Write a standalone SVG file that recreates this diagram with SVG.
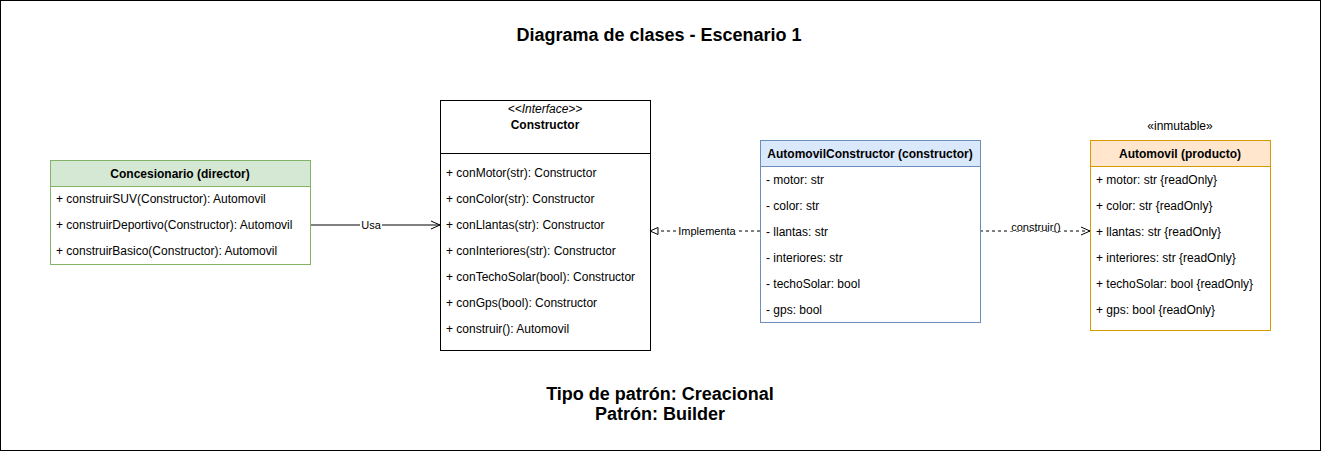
<svg xmlns="http://www.w3.org/2000/svg" width="1321" height="451" viewBox="0 0 1321 451">
<defs>
<style>
text{font-family:"Liberation Sans",Arial,sans-serif;fill:#000}
.row{font-size:12px}
.hdr{font-size:12px;font-weight:bold;text-anchor:middle}
.lbl{font-size:11px;text-anchor:middle}
.big{font-size:18px;font-weight:bold;text-anchor:middle}
.line{fill:none;stroke:#000;stroke-width:1}
</style>
<marker id="open" viewBox="0 0 10 10" refX="10" refY="5" markerWidth="10" markerHeight="10" markerUnits="userSpaceOnUse" orient="auto">
<path d="M1,1 L10,5 L1,9" fill="none" stroke="#000" stroke-width="1"/>
</marker>
<marker id="tri" viewBox="0 0 10 10" refX="10" refY="5" markerWidth="10" markerHeight="10" markerUnits="userSpaceOnUse" orient="auto">
<path d="M2,1.5 L10,5 L2,8.5 Z" fill="#fff" stroke="#000" stroke-width="1"/>
</marker>
</defs>
<rect x="0.5" y="0.5" width="1320" height="450" fill="#fff" stroke="#000"/>
<text class="big" x="659" y="41">Diagrama de clases - Escenario 1</text>

<g id="connectors">
<line class="line" x1="310" y1="225" x2="440" y2="225" marker-end="url(#open)"/>
<rect x="360" y="219" width="22" height="12" fill="#fff"/>
<text class="lbl" x="371" y="229">Usa</text>
<line class="line" x1="760" y1="231" x2="650" y2="231" stroke-dasharray="3,3" marker-end="url(#tri)"/>
<rect x="677" y="225" width="61" height="12" fill="#fff"/>
<text class="lbl" x="707" y="235">Implementa</text>
<line class="line" x1="980" y1="231" x2="1090" y2="231" stroke-dasharray="3,3" marker-end="url(#open)"/>
<rect x="1009" y="221" width="54" height="10" fill="#fff"/>
<text class="lbl" x="1036" y="231">construir()</text>
</g>

<g id="concesionario">
<rect x="50.5" y="160.5" width="260" height="104" fill="#fff" stroke="#82b366"/>
<rect x="50.5" y="160.5" width="260" height="26" fill="#d5e8d4" stroke="#82b366"/>
<text class="hdr" x="180" y="177.5">Concesionario (director)</text>
<text class="row" x="56" y="203">+ construirSUV(Constructor): Automovil</text>
<text class="row" x="56" y="229">+ construirDeportivo(Constructor): Automovil</text>
<text class="row" x="56" y="255">+ construirBasico(Constructor): Automovil</text>
</g>

<g id="constructor">
<rect x="440.5" y="100.5" width="210" height="250" fill="#fff" stroke="#000"/>
<line class="line" x1="440.5" y1="153.5" x2="650.5" y2="153.5"/>
<text x="545" y="113" font-size="12" font-style="italic" text-anchor="middle">&lt;&lt;Interface&gt;&gt;</text>
<text class="hdr" x="545" y="129">Constructor</text>
<text class="row" x="446" y="177">+ conMotor(str): Constructor</text>
<text class="row" x="446" y="203">+ conColor(str): Constructor</text>
<text class="row" x="446" y="229">+ conLlantas(str): Constructor</text>
<text class="row" x="446" y="255">+ conInteriores(str): Constructor</text>
<text class="row" x="446" y="281">+ conTechoSolar(bool): Constructor</text>
<text class="row" x="446" y="307">+ conGps(bool): Constructor</text>
<text class="row" x="446" y="333">+ construir(): Automovil</text>
</g>

<g id="automovilconstructor">
<rect x="760.5" y="140.5" width="220" height="182" fill="#fff" stroke="#6c8ebf"/>
<rect x="760.5" y="140.5" width="220" height="26" fill="#dae8fc" stroke="#6c8ebf"/>
<text class="hdr" x="870" y="157.5">AutomovilConstructor (constructor)</text>
<text class="row" x="766" y="184">- motor: str</text>
<text class="row" x="766" y="210">- color: str</text>
<text class="row" x="766" y="236">- llantas: str</text>
<text class="row" x="766" y="262">- interiores: str</text>
<text class="row" x="766" y="288">- techoSolar: bool</text>
<text class="row" x="766" y="314">- gps: bool</text>
</g>

<g id="automovil">
<text x="1180" y="129.5" font-size="12" text-anchor="middle">«inmutable»</text>
<rect x="1090.5" y="140.5" width="180" height="190" fill="#fff" stroke="#d79b00"/>
<rect x="1090.5" y="140.5" width="180" height="26" fill="#ffe6cc" stroke="#d79b00"/>
<text class="hdr" x="1180" y="157.5">Automovil (producto)</text>
<text class="row" x="1096" y="184">+ motor: str {readOnly}</text>
<text class="row" x="1096" y="210">+ color: str {readOnly}</text>
<text class="row" x="1096" y="236">+ llantas: str {readOnly}</text>
<text class="row" x="1096" y="262">+ interiores: str {readOnly}</text>
<text class="row" x="1096" y="288">+ techoSolar: bool {readOnly}</text>
<text class="row" x="1096" y="314">+ gps: bool {readOnly}</text>
</g>

<text class="big" x="660" y="400">Tipo de patrón: Creacional</text>
<text class="big" x="660" y="420">Patrón: Builder</text>
</svg>
